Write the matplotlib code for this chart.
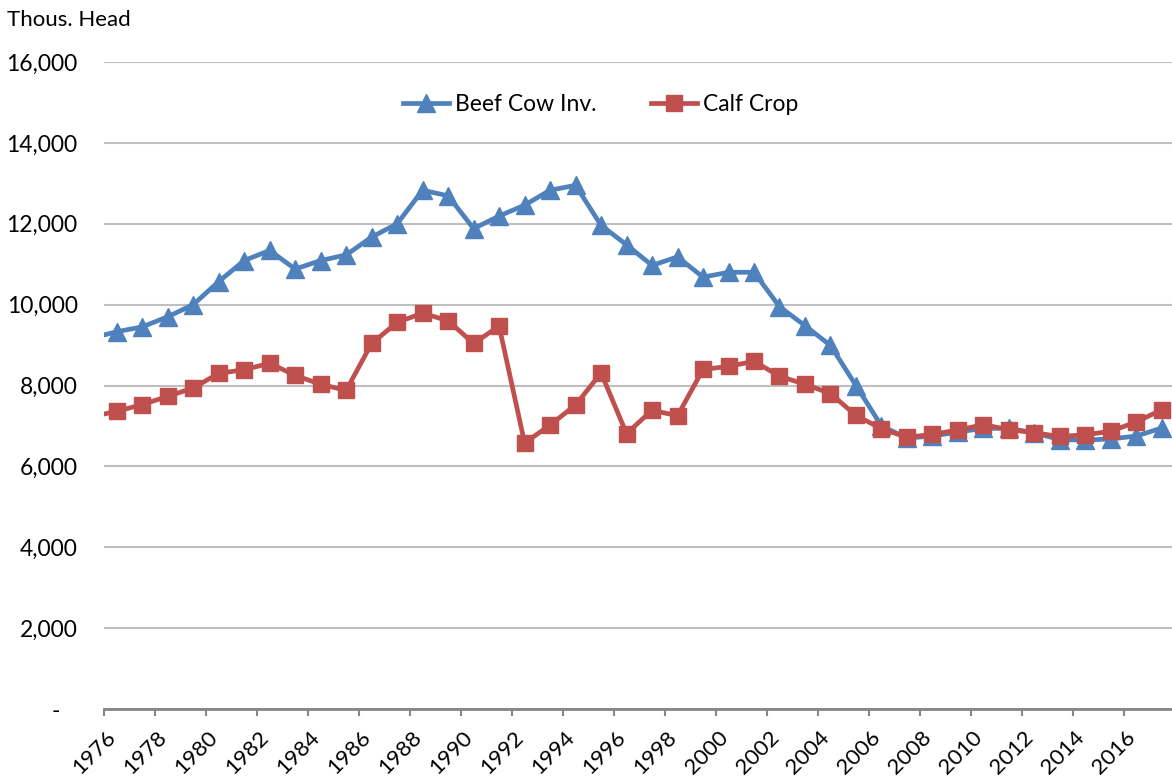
import matplotlib
matplotlib.use("Agg")
import matplotlib.pyplot as plt
import matplotlib.transforms as mtransforms
from matplotlib.ticker import FuncFormatter, MultipleLocator

# Annual series, thousand head (1975 point sits just off the left edge)
years = list(range(1975, 2018))
beef_cows = [9170, 9330, 9450, 9700, 10000, 10570, 11090, 11340, 10880, 11090,
             11230, 11670, 12000, 12830, 12690, 11880, 12190, 12460, 12830, 12950,
             11960, 11480, 10970, 11180, 10680, 10800, 10800, 9950, 9480, 8990,
             8000, 7000, 6700, 6750, 6850, 6940, 6940, 6830, 6660, 6650,
             6680, 6750, 6950]
calf_crop = [7230, 7360, 7530, 7730, 7940, 8300, 8390, 8550, 8250, 8030,
             7880, 9040, 9560, 9790, 9600, 9040, 9470, 6580, 7020, 7520,
             8310, 6810, 7390, 7250, 8400, 8470, 8600, 8230, 8030, 7800,
             7260, 6930, 6720, 6790, 6900, 7030, 6910, 6830, 6740, 6780,
             6870, 7100, 7400]
series_labels = ["Beef Cow Inv.", "Calf Crop"]

BLUE = "#4F81BD"
RED = "#C0504D"
plt.rcParams["font.family"] = ["Lato", "DejaVu Sans"]

fig = plt.figure(figsize=(11.72, 7.76), dpi=100)
ax = fig.add_axes([104 / 1172, 1 - 709 / 776, 1070.6 / 1172, 647 / 776])

# values are plotted mid-year
xs = [y + 0.5 for y in years]
ax.plot(xs, beef_cows, color=BLUE, lw=3.4, marker="^", ms=13,
        label=series_labels[0], clip_on=True, zorder=3)
ax.plot(xs, calf_crop, color=RED, lw=3.4, marker="s", ms=11.5,
        label=series_labels[1], clip_on=True, zorder=4)

ax.set_xlim(1976, 2018)
ax.set_ylim(0, 16000)

ax.yaxis.set_major_locator(MultipleLocator(2000))
ax.yaxis.set_major_formatter(FuncFormatter(
    lambda v, p: "-   " if v == 0 else f"{int(v):,}"))
ax.tick_params(axis="y", length=0, pad=19, labelsize=16.5, labelcolor="#000000")
ax.grid(axis="y", color="#BFBFBF", lw=1.5)
ax.set_axisbelow(True)

xt = list(range(1976, 2018, 2))
ax.set_xticks(xt)
ax.set_xticklabels([str(t) for t in xt], rotation=45, ha="right")
ax.tick_params(axis="x", length=5, width=1.5, color="#868686", pad=8,
               labelsize=16)
shift = mtransforms.ScaledTranslation(16 / 100, 0, fig.dpi_scale_trans)
for lab in ax.get_xticklabels():
    lab.set_transform(lab.get_transform() + shift)

for side in ("left", "right", "top"):
    ax.spines[side].set_visible(False)
ax.spines["bottom"].set_color("#868686")
ax.spines["bottom"].set_linewidth(2)

ax.legend(loc="center", bbox_to_anchor=(0.464, 0.935), ncol=2, frameon=False,
          fontsize=16.5, handlelength=2.0, handletextpad=0.25,
          columnspacing=2.4)

fig.text(7 / 1172, 1 - 26 / 776, "Thous. Head", fontsize=16, va="baseline")

fig.savefig("out.png", dpi=100)
